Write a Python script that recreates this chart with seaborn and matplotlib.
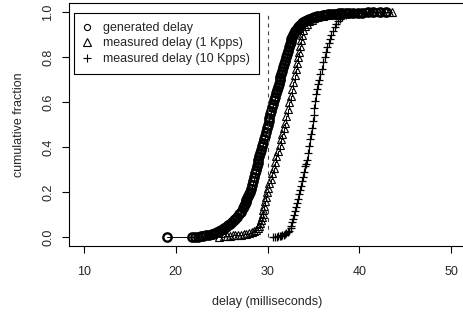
import matplotlib
matplotlib.use("Agg")
import matplotlib.pyplot as plt
from matplotlib.lines import Line2D
import seaborn as sns

# values (delay in ms, cumulative fraction)
gen_delay = [19.0, 21.8, 22.1, 22.4, 22.7, 23.0, 23.3, 23.6, 23.9, 24.1, 24.3, 24.5, 24.7,
             24.9, 25.1, 25.3, 25.5, 25.7, 25.9, 26.1, 26.3, 26.5, 26.7, 26.9, 27.1, 27.3,
             27.4, 27.5, 27.6, 27.7, 27.8, 27.9, 28.0, 28.1, 28.2, 28.3, 28.4, 28.5, 28.6,
             28.7, 28.8, 28.9, 29.0, 29.1, 29.2, 29.3, 29.4, 29.5, 29.6, 29.7, 29.8, 29.9,
             30.0, 30.1, 30.2, 30.3, 30.4, 30.5, 30.6, 30.7, 30.8, 30.9, 31.0, 31.1, 31.2,
             31.3, 31.4, 31.5, 31.6, 31.7, 31.8, 31.9, 32.0, 32.1, 32.2, 32.3, 32.4, 32.5,
             32.6, 32.7, 32.8, 32.9, 33.0, 33.1, 33.2, 33.3, 33.4, 33.5, 33.7, 33.9, 34.1,
             34.3, 34.5, 34.8, 35.1, 35.4, 35.7, 36.0, 36.3, 36.6, 36.9, 37.2, 37.5, 37.8,
             38.1, 38.5, 38.9, 39.3, 39.8, 40.3, 40.9, 41.5, 42.2, 42.9]
gen_frac = [0.0005, 0.001, 0.002, 0.003, 0.004, 0.006, 0.008, 0.010, 0.013, 0.016, 0.019,
            0.023, 0.027, 0.031, 0.036, 0.041, 0.047, 0.053, 0.060, 0.067, 0.075, 0.083,
            0.092, 0.102, 0.113, 0.130, 0.140, 0.150, 0.157, 0.165, 0.173, 0.182, 0.191,
            0.200, 0.215, 0.232, 0.250, 0.268, 0.285, 0.300, 0.315, 0.330, 0.345, 0.360,
            0.375, 0.390, 0.405, 0.420, 0.436, 0.452, 0.468, 0.484, 0.500, 0.515, 0.530,
            0.546, 0.562, 0.578, 0.594, 0.610, 0.625, 0.640, 0.655, 0.669, 0.683, 0.697,
            0.711, 0.725, 0.740, 0.755, 0.770, 0.785, 0.800, 0.815, 0.830, 0.845, 0.858,
            0.870, 0.881, 0.891, 0.900, 0.908, 0.915, 0.922, 0.928, 0.934, 0.939, 0.944,
            0.952, 0.958, 0.963, 0.967, 0.971, 0.975, 0.979, 0.982, 0.985, 0.987, 0.989,
            0.991, 0.992, 0.993, 0.994, 0.995, 0.996, 0.997, 0.9975, 0.998, 0.9985, 0.999,
            0.9993, 0.9996, 0.9998, 1.0]

kpps1_delay = [24.75, 25.3, 25.6, 25.9, 26.2, 26.5, 26.8, 27.1, 27.4, 27.7, 28.0, 28.25,
               28.5, 28.7, 28.9, 29.05, 29.2, 29.3, 29.4, 29.48, 29.55, 29.65, 29.75, 29.85,
               29.95, 30.05, 30.2, 30.35, 30.5, 30.65, 30.8, 30.95, 31.1, 31.3, 31.45, 31.6,
               31.75, 31.9, 32.05, 32.2, 32.35, 32.5, 32.65, 32.8, 32.95, 33.1, 33.2, 33.3,
               33.4, 33.5, 33.6, 33.75, 33.9, 34.05, 34.25, 34.5, 34.8, 35.1, 35.4, 35.7,
               36.0, 36.3, 36.6, 36.9, 37.2, 37.5, 37.8, 38.1, 38.4, 38.7, 39.0, 39.3, 39.6,
               39.9, 40.2, 40.5, 40.8, 41.1, 41.4, 41.7, 42.0, 42.3, 42.6, 42.9, 43.2, 43.6]
kpps1_frac = [0.003, 0.005, 0.006, 0.007, 0.008, 0.009, 0.010, 0.011, 0.013, 0.015, 0.018,
              0.022, 0.027, 0.033, 0.041, 0.050, 0.062, 0.075, 0.090, 0.105, 0.120, 0.140,
              0.160, 0.180, 0.200, 0.220, 0.240, 0.260, 0.285, 0.310, 0.335, 0.360, 0.385,
              0.410, 0.435, 0.460, 0.485, 0.510, 0.540, 0.570, 0.600, 0.630, 0.660, 0.690,
              0.720, 0.750, 0.775, 0.800, 0.825, 0.850, 0.875, 0.900, 0.920, 0.937, 0.950,
              0.960, 0.967, 0.973, 0.978, 0.982, 0.985, 0.988, 0.990, 0.992, 0.993, 0.994,
              0.995, 0.996, 0.9965, 0.997, 0.9975, 0.998, 0.9985, 0.999, 0.9991, 0.9992,
              0.9993, 0.9994, 0.9995, 0.9996, 0.9997, 0.9998, 0.9998, 0.9999, 0.9999, 1.0]

kpps10_delay = [30.6, 30.8, 31.0, 31.15, 31.3, 31.45, 31.6, 31.75, 31.9, 32.05, 32.2, 32.35,
                32.5, 32.6, 32.7, 32.8, 32.9, 33.0, 33.1, 33.2, 33.3, 33.4, 33.5, 33.6, 33.7,
                33.8, 33.95, 34.1, 34.2, 34.3, 34.4, 34.5, 34.6, 34.7, 34.8, 34.9, 35.0, 35.1,
                35.2, 35.3, 35.4, 35.5, 35.6, 35.75, 35.9, 36.05, 36.2, 36.35, 36.5, 36.65,
                36.8, 36.95, 37.1, 37.3, 37.5, 37.7, 37.9, 38.1, 38.3, 38.5, 38.8, 39.1, 39.4,
                39.7, 40.0, 40.3, 40.6, 40.9, 41.2, 41.5, 41.8]
kpps10_frac = [0.001, 0.002, 0.003, 0.004, 0.005, 0.006, 0.008, 0.010, 0.013, 0.017, 0.022,
               0.030, 0.040, 0.052, 0.066, 0.082, 0.099, 0.117, 0.135, 0.153, 0.172, 0.191,
               0.210, 0.229, 0.248, 0.267, 0.290, 0.315, 0.325, 0.345, 0.375, 0.405, 0.435,
               0.460, 0.485, 0.515, 0.545, 0.575, 0.605, 0.635, 0.660, 0.680, 0.700, 0.725,
               0.750, 0.780, 0.800, 0.825, 0.845, 0.865, 0.880, 0.900, 0.915, 0.935, 0.950,
               0.962, 0.972, 0.980, 0.986, 0.990, 0.993, 0.995, 0.997, 0.998, 0.9985, 0.999,
               0.9993, 0.9995, 0.9997, 0.9998, 1.0]

labels = ["generated delay", "measured delay (1 Kpps)", "measured delay (10 Kpps)"]
markers = ["o", "^", "+"]
target_delay = 30
x_ticks = [10, 20, 30, 40, 50]
y_ticks = [0.0, 0.2, 0.4, 0.6, 0.8, 1.0]

sns.set_style("ticks")
plt.rcParams["font.family"] = ["Liberation Sans", "DejaVu Sans"]
plt.rcParams["font.size"] = 9

fig = plt.figure(figsize=(4.63, 3.12), dpi=100)
ax = fig.add_axes([0.1497, 0.2106, 0.8566, 0.7788])

series = [(gen_delay, gen_frac), (kpps1_delay, kpps1_frac), (kpps10_delay, kpps10_frac)]
msizes = [6.0, 5.6, 6.0]
mews = [1.7, 0.8, 0.9]
for (xs, ys), mk, ms, mw in zip(series, markers, msizes, mews):
    sns.lineplot(x=xs, y=ys, estimator=None, sort=False, ax=ax, legend=False,
                 color="black", lw=0.7, drawstyle="steps-post",
                 marker=mk, markersize=ms, markerfacecolor="none",
                 markeredgecolor="black", mew=mw)

ax.vlines(target_delay, 0, 1, colors="#444444", linestyles=(0, (3.5, 3.5)), lw=0.8)

ax.set_xlim(8.4, 51.6)
ax.set_ylim(-0.04, 1.04)
ax.set_xticks(x_ticks)
ax.set_yticks(y_ticks)
ax.set_yticklabels([f"{v:.1f}" for v in y_ticks])
for t in ax.get_yticklabels():
    t.set_rotation(90)
    t.set_va("center")
ax.tick_params(length=5, width=0.8, color="black", labelsize=9)
ax.tick_params(axis="x", pad=9.5)
ax.tick_params(axis="y", pad=6)
for s in ax.spines.values():
    s.set_visible(True)
    s.set_linewidth(0.8)
    s.set_color("black")

ax.set_xlabel("delay (milliseconds)", fontsize=9, labelpad=13)
ax.set_ylabel("cumulative fraction", fontsize=9, labelpad=12)

handles = [Line2D([], [], ls="none", marker=m, markersize=s, markerfacecolor="none",
                  markeredgecolor="black", mew=0.8, color="black")
           for m, s in zip(markers, [4.4, 5.6, 6.0])]
leg = ax.legend(handles, labels, loc="upper left", bbox_to_anchor=(0.013, 0.962),
                borderaxespad=0, fancybox=False, framealpha=1, edgecolor="black",
                fontsize=9, handlelength=0.5, handletextpad=1.0, labelspacing=0.28,
                borderpad=0.75)
leg.get_frame().set_linewidth(0.8)

fig.savefig("out.png", dpi=100)
